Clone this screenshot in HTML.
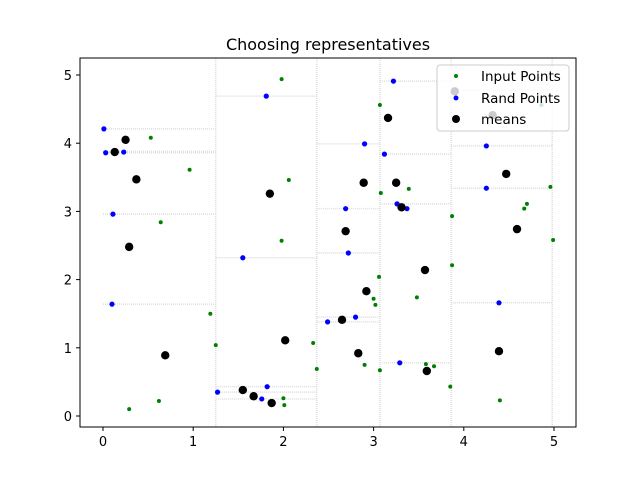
<!DOCTYPE html>
<html><head><meta charset="utf-8"><style>
body{margin:0;background:#fff;}
svg text{font-family:"DejaVu Sans","Liberation Sans",sans-serif;}
</style></head><body>
<svg id="chart" width="640" height="480" xmlns="http://www.w3.org/2000/svg">
<rect width="640" height="480" fill="#fff"/>
<text x="328" y="50" text-anchor="middle" font-size="16">Choosing representatives</text>
<g id="grid"></g><g id="marks"></g>
<rect x="80" y="58" width="496" height="369" fill="none" stroke="#000" stroke-width="1"/>
<g id="axes"></g>
<g>
<rect x="437" y="65" width="132" height="66" rx="3" fill="#fff" fill-opacity="0.8" stroke="#ccc"/>
<circle cx="456" cy="76" r="2" fill="green"/>
<text x="481" y="81" font-size="13.5">Input Points</text>
<circle cx="456" cy="98" r="2.5" fill="blue"/>
<text x="481" y="103" font-size="13.5">Rand Points</text>
<circle cx="456" cy="119" r="4" fill="#000"/>
<text x="481" y="124" font-size="13.5">means</text>
</g>
</svg>
<script>
const xTicks=[0,1,2,3,4,5];
const yTicks=[0,1,2,3,4,5];
const vLines=[1.25,2.37,3.07,3.86,4.98];
const hSegX0=[0,0,0,0,0,1.25,1.25,1.25,1.25,1.25,2.37,2.37,2.37,2.37,2.37,3.07,3.07,3.07,3.07,3.86,3.86,3.86,3.86];
const hSegX1=[1.25,1.25,1.25,1.25,1.25,2.37,2.37,2.37,2.37,2.37,3.07,3.07,3.07,3.07,3.07,3.86,3.86,3.86,3.86,4.98,4.98,4.98,4.98];
const hSegY=[4.21,3.88,3.86,2.96,1.64,4.69,2.32,0.43,0.35,0.25,3.99,3.04,2.39,1.45,1.38,4.91,3.84,3.11,0.78,3.96,3.34,1.66,4.78];
const inputX=[1.98,0.53,0.96,2.06,0.64,1.98,1.19,1.25,2.33,2.37,2.00,2.01,0.29,0.62,3.07,3.08,3.39,3.87,4.96,4.99,4.70,4.67,4.86,3.87,3.06,3.00,3.02,3.48,2.90,3.07,3.58,3.67,3.85,4.40];
const inputY=[4.94,4.08,3.61,3.46,2.84,2.57,1.50,1.04,1.07,0.69,0.26,0.16,0.10,0.22,4.56,3.27,3.33,2.93,3.36,2.58,3.11,3.04,4.56,2.21,2.04,1.72,1.63,1.74,0.75,0.67,0.76,0.73,0.43,0.23];
const randX=[0.01,0.03,0.23,0.11,1.81,0.10,1.27,1.55,1.82,1.76,2.49,3.22,2.90,3.12,4.25,4.25,3.26,3.37,2.69,2.72,2.80,3.29,4.39,3.90];
const randY=[4.21,3.86,3.87,2.96,4.69,1.64,0.35,2.32,0.43,0.25,1.38,4.91,3.99,3.84,3.96,3.34,3.11,3.04,3.04,2.39,1.45,0.78,1.66,4.78];
const meanX=[0.25,0.13,0.37,0.29,1.85,0.69,1.55,1.67,1.87,2.02,3.16,2.89,3.25,3.31,4.47,2.69,4.59,3.57,2.92,2.65,2.83,3.59,4.39,3.90,4.32];
const meanY=[4.05,3.87,3.47,2.48,3.26,0.89,0.38,0.29,0.19,1.11,4.37,3.42,3.42,3.06,3.55,2.71,2.74,2.14,1.83,1.41,0.92,0.66,0.95,4.76,4.41];
const NS='http://www.w3.org/2000/svg';
function sx(v){return 103+v*90.2;}
function sy(v){return 416-v*68.2;}
function mk(tag,attrs,parent){const e=document.createElementNS(NS,tag);for(const k in attrs)e.setAttribute(k,attrs[k]);document.getElementById(parent).appendChild(e);return e;}
vLines.forEach(v=>{
const e=mk('line',{x1:sx(v),x2:sx(v),y1:58,y2:427,stroke:'#ddd','stroke-width':1.5,'stroke-dasharray':'1,1'},'grid');


});
hSegY.forEach((v,i)=>{
const e=mk('line',{x1:sx(hSegX0[i]),x2:sx(hSegX1[i]),y1:sy(v),y2:sy(v),stroke:'#ddd','stroke-width':1.5,'stroke-dasharray':'1,1'},'grid');


});
inputX.forEach((v,i)=>{
const e=mk('circle',{cx:sx(v),cy:sy(inputY[i]),r:2,fill:'green'},'marks');


});
randX.forEach((v,i)=>{
const e=mk('circle',{cx:sx(v),cy:sy(randY[i]),r:2.6,fill:'blue'},'marks');


});
meanX.forEach((v,i)=>{
const e=mk('circle',{cx:sx(v),cy:sy(meanY[i]),r:4.2,fill:'#000'},'marks');


});
xTicks.forEach(t=>{
const l=mk('line',{x1:sx(t),x2:sx(t),y1:427,y2:431,stroke:'#000'},'axes');


const e=mk('text',{x:sx(t),y:446,'text-anchor':'middle','font-size':13},'axes');
e.textContent=t;


});
yTicks.forEach(t=>{
const l=mk('line',{x1:76,x2:80,y1:sy(t),y2:sy(t),stroke:'#000'},'axes');


const e=mk('text',{x:72,y:sy(t)+5,'text-anchor':'end','font-size':13},'axes');
e.textContent=t;


});
</script>
</body></html>
